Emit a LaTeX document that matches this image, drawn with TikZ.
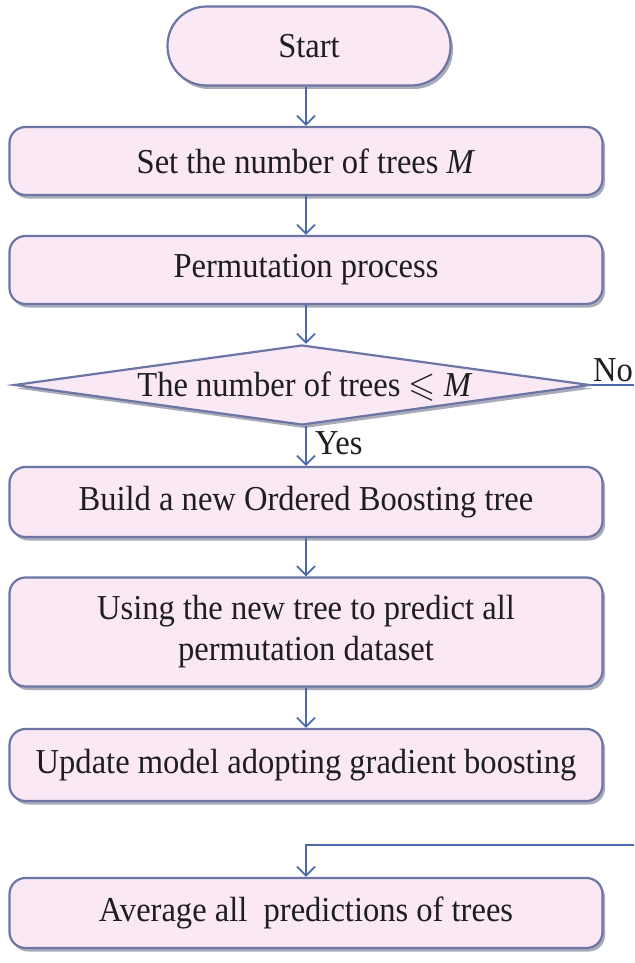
\documentclass[tikz,border=0pt]{standalone}
\usepackage{fontspec}
\setmainfont[FakeStretch=0.93]{Liberation Serif}
\usepackage{amssymb}
\usetikzlibrary{arrows.meta,shapes.geometric,shadows}
\definecolor{boxfill}{RGB}{250,232,244}
\definecolor{boxedge}{RGB}{108,118,165}
\definecolor{arrowc}{RGB}{75,105,175}
\definecolor{txt}{RGB}{30,30,30}
\begin{document}
\begin{tikzpicture}[x=1pt,y=-1pt,
  font=\fontsize{35}{41}\selectfont,
  shadowed/.style={drop shadow={shadow xshift=2.5pt,shadow yshift=-3.5pt,fill=boxedge!60!black,opacity=0.45}},
  procbox/.style={draw=boxedge,line width=2.2pt,fill=boxfill,rounded corners=16pt,
    minimum width=593pt,minimum height=68pt,align=center,inner sep=0pt,text=txt,shadowed},
  startbox/.style={procbox,minimum width=283pt,minimum height=79pt,rounded corners=39pt},
  decision/.style={draw=boxedge,line width=2.2pt,fill=boxfill,shape=diamond,inner sep=0pt,
    minimum width=576pt,minimum height=80pt,shadowed},
  lbl/.style={text=txt,inner sep=0pt},
  conn/.style={draw=arrowc,line width=1.8pt},
  arr/.style={conn,-{Straight Barb[length=9pt,width=18pt,line width=1.8pt]}}]
\useasboundingbox (0,0) rectangle (634,963);
\fill[white] (0,0) rectangle (634,963);

\node[startbox] (start) at (309,46) {Start};
\node[procbox] (set) at (306,161) {Set the number of trees \textit{M}};
\node[procbox] (perm) at (306,270) {Permutation process};
\node[decision] (dia) at (302,385) {};
\node[lbl] (diatext) at (305,387) {The number of trees $\leqslant$ \textit{M}};
\node[procbox,minimum height=70pt] (build) at (306,502) {Build a new Ordered Boosting tree};
\node[procbox,minimum height=109pt] (using) at (306,632) {Using the new tree to predict all\\permutation dataset};
\node[procbox,minimum height=72pt] (update) at (306,765) {Update model adopting gradient boosting};
\node[procbox,minimum height=70pt] (avg) at (306,913) {Average all \ predictions of trees};

\node[lbl,anchor=base west] (yes) at (315,454) {Yes};
\node[lbl,anchor=base] (no) at (613,381) {No};
\coordinate (noend) at (634,385);
\coordinate (fbin) at (634,845);

\draw[arr] (start.south -| set.north) -- (set.north);
\draw[arr] (set) -- (perm);
\draw[arr] (perm.south) -- (perm.south |- dia.north);
\draw[arr] (perm.south |- dia.south) -- (build.north);
\draw[arr] (build) -- (using);
\draw[arr] (using) -- (update);
\draw[conn] (dia.east) -- (noend);
\draw[arr] (fbin) -| (avg.north);
\end{tikzpicture}
\end{document}
